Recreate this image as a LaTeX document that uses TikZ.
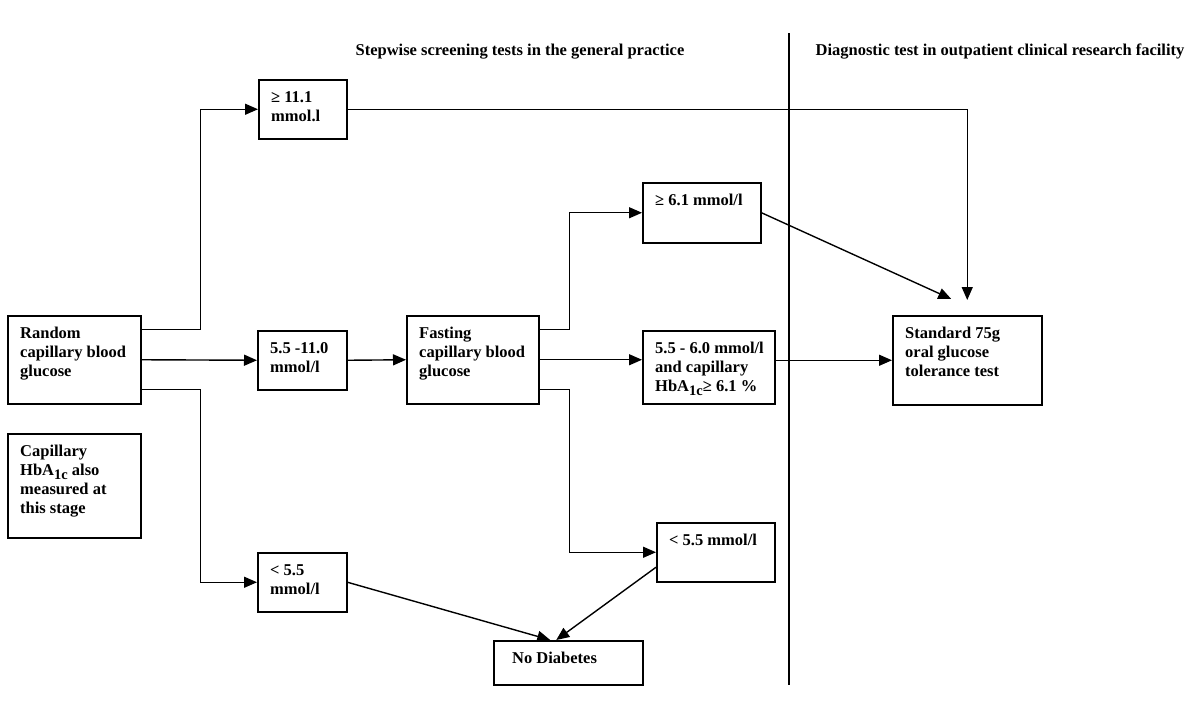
\documentclass[tikz,border=0pt]{standalone}
\usepackage{fontspec}
\setmainfont{Liberation Serif}
\usepackage{tikz}
\usetikzlibrary{arrows.meta}
\usetikzlibrary{positioning}
\newcommand{\boxfont}{\fontsize{16.5}{19}\selectfont\bfseries}
\newcommand{\headfont}{\fontsize{16.5}{19}\selectfont\bfseries}
\newcommand{\hbsub}{HbA\raisebox{-0.55ex}{\fontsize{14.5}{14.5}\selectfont 1c}}

\tikzset{
	box/.style={draw, line width=1.5pt, anchor=north west, inner sep=0pt},
	txt/.style={anchor=north west, inner sep=0pt, align=left, font=\boxfont, xshift=13pt, yshift=-12pt},
	head/.style={inner sep=0pt, font=\headfont},
	arr/.style={line width=1.4pt, -{Triangle[length=13pt,width=11pt]}}
}

\begin{document}
\begin{tikzpicture}[x=1pt, y=-1pt]
	\useasboundingbox (0,0) rectangle (1200,705);
	% Headings:
	\node[head] (stephead) at (520,52) {Stepwise screening tests in the general practice};
	\node[head] (diaghead) at (1000,52) {Diagnostic test in outpatient clinical research facility};
	\draw[line width=1.4pt] (789,33) -- (789,685); % divider
	% Boxes:
	\node[box, minimum width=133pt, minimum height=88pt,
		label={[txt]north west:Random\\capillary blood\\glucose}] (random) at (7,315) {};
	\node[box, minimum width=133pt, minimum height=104pt,
		label={[txt]north west:Capillary\\\hbsub{} also\\measured at\\this stage}] (hbnote) at (7,433) {};
	\node[box, minimum width=88pt, minimum height=59pt,
		label={[txt]north west:≥ 11.1\\mmol.l}] (high) at (258,79) {};
	\node[box, minimum width=89pt, minimum height=59pt,
		label={[txt]north west:5.5 -11.0\\mmol/l}] (mid) at (257,330) {};
	\node[box, minimum width=89pt, minimum height=59pt,
		label={[txt]north west:< 5.5\\mmol/l}] (low) at (257,552) {};
	\node[box, minimum width=132pt, minimum height=88pt,
		label={[txt]north west:Fasting\\capillary blood\\glucose}] (fasting) at (406,315) {};
	\node[box, minimum width=118pt, minimum height=60pt,
		label={[txt]north west:≥ 6.1 mmol/l}] (fhigh) at (642,182) {};
	\node[box, minimum width=132pt, minimum height=73pt,
		label={[txt]north west:5.5 - 6.0 mmol/l\\and capillary\\\hbsub≥ 6.1 \%}] (fmid) at (642,330) {};
	\node[box, minimum width=118pt, minimum height=59pt,
		label={[txt]north west:< 5.5 mmol/l}] (flow) at (656,522) {};
	\node[box, minimum width=149pt, minimum height=89pt,
		label={[txt]north west:Standard 75g\\oral glucose\\tolerance test}] (ogtt) at (892,315) {};
	\node[box, minimum width=149pt, minimum height=44pt,
		label={[txt, xshift=6pt]north west:No Diabetes}] (nodiab) at (493,640) {};
	% Random glucose branches:
	\draw[arr] ([yshift=30pt]random.east) -- ++(59,0) |- (high.west);
	\draw[arr] (random.east) -- (mid.west);
	\draw[arr] ([yshift=-30pt]random.east) -- ++(59,0) |- (low.west);
	\draw[arr] (mid.east) -- (fasting.west);
	% Fasting glucose branches:
	\draw[arr] ([yshift=30pt]fasting.east) -- ++(30,0) |- (fhigh.west);
	\draw[arr] (fasting.east) -- (fasting.east -| fmid.west);
	\draw[arr] ([yshift=-30pt]fasting.east) -- ++(30,0) |- (flow.west);
	% To the OGTT:
	\draw[arr] (high.east) -| ([yshift=15pt]ogtt.north);
	\draw[arr] (fhigh.east) -- ([xshift=-16pt,yshift=16pt]ogtt.north);
	\draw[arr] (fmid.east |- ogtt.west) -- (ogtt.west);
	% To no diabetes:
	\draw[arr] (low.east) -- ([xshift=-18pt]nodiab.north);
	\draw[arr] ([yshift=-15pt]flow.west) -- ([xshift=-12pt]nodiab.north);
\end{tikzpicture}
\end{document}
